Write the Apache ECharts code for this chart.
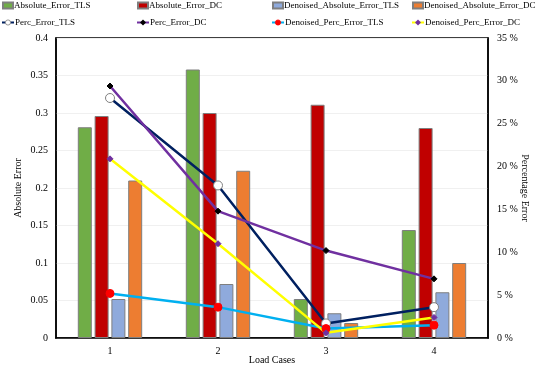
<!DOCTYPE html>
<html><head><meta charset="utf-8">
<script src="https://cdn.jsdelivr.net/npm/echarts@6/dist/echarts.min.js"></script>
<style>html,body{margin:0;padding:0;background:#fff}#c{width:550px;height:368px}</style>
</head><body><div id="c"></div>
<script>
var categories = ['1','2','3','4'];
var absErrTLS = [0.281, 0.358, 0.052, 0.144];
var absErrDC = [0.296, 0.300, 0.311, 0.280];
var denAbsErrTLS = [0.052, 0.072, 0.033, 0.061];
var denAbsErrDC = [0.210, 0.223, 0.020, 0.100];
var percErrTLS = [28.0, 17.8, 1.7, 3.6];
var percErrDC = [29.4, 14.8, 10.2, 6.9];
var denPercErrTLS = [5.2, 3.6, 1.1, 1.5];
var denPercErrDC = [20.9, 11.0, 0.6, 2.4];
var leftTicks = {min:0, max:0.4, interval:0.05};
var rightTicks = {min:0, max:35, interval:5};

var font = 'Liberation Serif';
var chart = echarts.init(document.getElementById('c'));
function bar(name, data, color){
  return {name:name, type:'bar', data:data, yAxisIndex:0, barWidth:14, barGap:'20%',
    itemStyle:{color:color, borderColor:'#7f7f7f', borderWidth:1}};
}
function line(name, data, color, symbol, sColor, sBorder, size){
  return {name:name, type:'line', data:data, yAxisIndex:1, z:5,
    lineStyle:{color:color, width:2.5}, symbol:symbol, symbolSize:size,
    itemStyle:{color:sColor, borderColor:sBorder, borderWidth:1}};
}
var names = ['Absolute_Error_TLS','Absolute_Error_DC','Denoised_Absolute_Error_TLS','Denoised_Absolute_Error_DC',
  'Perc_Error_TLS','Perc_Error_DC','Denoised_Perc_Error_TLS','Denoised_Perc_Error_DC'];
var lineColors = ['#002060','#7030A0','#00B0F0','#FFFF00'];
function iconSvg(lc, marker, fill, stroke){
  var m = marker === 'circle'
    ? '<circle cx="6" cy="4" r="2.6" fill="'+fill+'" stroke="'+stroke+'" stroke-width="0.8"/>'
    : '<path d="M6 1 L9 4 L6 7 L3 4 Z" fill="'+fill+'"/>';
  var svg = '<svg xmlns="http://www.w3.org/2000/svg" width="12" height="8" viewBox="0 0 12 8">'
    + '<line x1="0" y1="4" x2="12" y2="4" stroke="'+lc+'" stroke-width="2"/>' + m + '</svg>';
  return 'image://data:image/svg+xml;charset=utf-8,' + encodeURIComponent(svg);
}
var lineIcons = [
  iconSvg(lineColors[0], 'circle', '#ffffff', '#7f7f7f'),
  iconSvg(lineColors[1], 'diamond', '#000000', '#000000'),
  iconSvg(lineColors[2], 'circle', '#FF0000', '#FF0000'),
  iconSvg(lineColors[3], 'diamond', '#7030A0', '#7030A0')
];
var lx = [0, 135, 270, 410];
var legends = names.map(function(n,i){
  return {data:[{name:n, icon: i<4 ? 'rect' : lineIcons[i-4]}], left:lx[i%4], top: i<4 ? 1 : 18,
    itemWidth: i<4 ? 10 : 12, itemHeight: i<4 ? 6 : 8, itemGap:2, padding:[0,2,0,2],
    textStyle:{fontFamily:font, fontSize:9, color:'#000', padding:[0,0,0,-4]}};
});
chart.setOption({
  animation:false,
  textStyle:{fontFamily:font},
  legend: legends,
  grid:{left:56, right:62, top:38, bottom:30, show:true, borderColor:'#000', borderWidth:1.5,
    outerBoundsMode:'none', containLabel:false},
  xAxis:{type:'category', data:categories, name:'Load Cases', nameLocation:'middle', nameGap:17,
    nameMoveOverlap:false,
    nameTextStyle:{fontFamily:font, fontSize:10, color:'#000'},
    axisLine:{lineStyle:{color:'#000', width:1.5}}, axisTick:{show:false},
    axisLabel:{fontFamily:font, fontSize:10, color:'#000', margin:8}},
  yAxis:[
    {type:'value', min:leftTicks.min, max:leftTicks.max, interval:leftTicks.interval,
     name:'Absolute Error', nameLocation:'middle', nameGap:33, nameMoveOverlap:false,
     nameTextStyle:{fontFamily:font, fontSize:10, color:'#000'},
     axisLine:{show:true, lineStyle:{color:'#000', width:1.5}}, axisTick:{show:false},
     axisLabel:{fontFamily:font, fontSize:10, color:'#000', margin:8},
     splitLine:{lineStyle:{color:'#f0f0f0'}}},
    {type:'value', min:rightTicks.min, max:rightTicks.max, interval:rightTicks.interval,
     name:'Percentage Error', nameLocation:'middle', nameGap:32, nameRotate:-90, nameMoveOverlap:false,
     nameTextStyle:{fontFamily:font, fontSize:10, color:'#000'},
     axisLine:{show:true, lineStyle:{color:'#000', width:1.5}}, axisTick:{show:false},
     axisLabel:{fontFamily:font, fontSize:10, color:'#000', margin:9, formatter:'{value} %'},
     splitLine:{show:false}}
  ],
  series:[
    bar(names[0], absErrTLS, '#70AD47'),
    bar(names[1], absErrDC, '#C00000'),
    bar(names[2], denAbsErrTLS, '#8FAADC'),
    bar(names[3], denAbsErrDC, '#ED7D31'),
    line(names[4], percErrTLS, lineColors[0], 'circle', '#ffffff', '#7f7f7f', 9),
    line(names[5], percErrDC, lineColors[1], 'diamond', '#000000', '#000000', 6),
    line(names[6], denPercErrTLS, lineColors[2], 'circle', '#FF0000', '#FF0000', 8),
    line(names[7], denPercErrDC, lineColors[3], 'diamond', '#7030A0', '#7030A0', 6)
  ]
});
</script></body></html>
